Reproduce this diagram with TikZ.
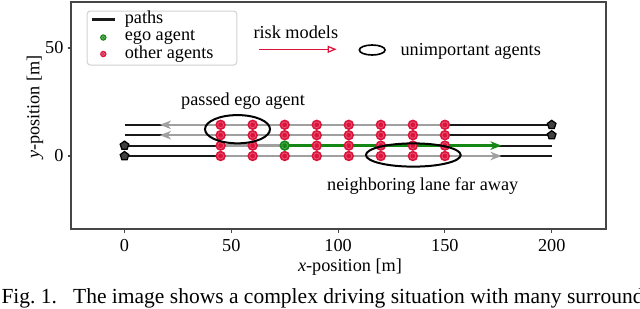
\documentclass[tikz,border=0pt]{standalone}
\usepackage{fontspec}
\setmainfont{Liberation Serif}
\usetikzlibrary{arrows.meta,shapes.geometric}
\definecolor{crim}{RGB}{220,20,60}
\definecolor{egogreen}{RGB}{20,135,20}
\definecolor{predgray}{RGB}{160,160,160}
\definecolor{framegray}{RGB}{70,70,70}
\tikzset{
 pathline/.style={line width=0.85pt, black!90},
 predline/.style={line width=0.9pt, predgray},
 egoline/.style={line width=0.9pt, egogreen},
 agentdot/.style={circle, fill=crim, inner sep=0pt, minimum size=4.2pt,
   path picture={\draw[white, opacity=0.28, line width=0.3pt] (path picture bounding box.center) circle (1.2pt);}},
 egodot/.style={circle, fill=egogreen, inner sep=0pt, minimum size=4.2pt,
   path picture={\draw[white, opacity=0.28, line width=0.3pt] (path picture bounding box.center) circle (1.2pt);}},
 legdot/.style={minimum size=2.6pt,
   path picture={\draw[white, opacity=0.35, line width=0.25pt] (path picture bounding box.center) circle (0.65pt);}},
 startmark/.style={regular polygon, regular polygon sides=5, draw=black, fill=black!75, line width=0.5pt, inner sep=0pt, minimum size=3.6pt},
 unimp/.style={ellipse, draw=black, line width=0.8pt, inner sep=0pt},
 lbl/.style={inner sep=0pt, anchor=base west},
 predtip/.style={-{Stealth[length=4.4pt, width=3.4pt, inset=1.3pt]}},
 axisline/.style={framegray, line width=0.45pt},
}
\begin{document}
\begin{tikzpicture}[x=0.4pt,y=-0.4pt,font=\fontsize{7.3}{8.5}\selectfont]
\useasboundingbox (0,0) rectangle (640,308);
\clip (0,0) rectangle (640,308);
\def\laneA{124.8}\def\laneB{135.2}\def\laneC{145.6}\def\laneD{156}
% frame
\draw[axisline] (71,2) rectangle (606,229);
% y ticks
\foreach \yv/\yl in {48/50, 156/0} {
  \draw[axisline] (67.5,\yv) -- (71,\yv);
  \node[anchor=east, inner sep=0pt] (yt\yl) at (64,\yv) {\yl};
}
\node[rotate=90, inner sep=0pt] (ylab) at (35,107) {\textit{y}-position [m]};
\node[inner sep=0pt] (xlab) at (350,267) {\textit{x}-position [m]};
\begin{scope}[shift={(124.5,0)}, xscale=2.136]
 \foreach \xv in {0,50,100,150,200} {
   \draw[axisline] (\xv,229) -- (\xv,232.5);
   \node[anchor=base, inner sep=0pt] (xt\xv) at (\xv,251) {\xv};
 }
 \foreach \ln/\ly in {1/\laneA,2/\laneB,3/\laneC,4/\laneD} {
   \coordinate (s\ln) at (0,\ly);
   \coordinate (e\ln) at (200,\ly);
   \foreach \xv in {45,60,...,150} {\coordinate (p\ln-\xv) at (\xv,\ly);}
 }
 \coordinate (t1) at (16.6,\laneA);
 \coordinate (t2) at (16.6,\laneB);
 \coordinate (t3) at (176.5,\laneC);
 \coordinate (t4) at (176.5,\laneD);
\end{scope}
% paths
\foreach \ln in {1,...,4} {\draw[pathline] (s\ln) -- (e\ln);}
% predicted motions
\draw[predline, predtip] (p1-150) -- (t1);
\draw[predline, predtip] (p2-150) -- (t2);
\draw[predline] (p3-45) -- (p3-75);
\draw[egoline, predtip] (p3-75) -- (t3);
\draw[predline, predtip] (p4-45) -- (t4);
% agents
\foreach \ln in {1,2,4} {
  \foreach \xv in {45,60,...,150} {\node[agentdot] (a\ln-\xv) at (p\ln-\xv) {};}
}
\foreach \xv in {45,60,90,105,120,135,150} {\node[agentdot] (a3-\xv) at (p3-\xv) {};}
\node[egodot] (ego) at (p3-75) {};
% start markers
\node[startmark] (m1) at (e1) {};
\node[startmark] (m2) at (e2) {};
\node[startmark] (m3) at (s3) {};
\node[startmark] (m4) at (s4) {};
% unimportant agent ellipses
\node[unimp, minimum width=26pt, minimum height=11.3pt] (passed) at (237.5,129.2) {};
\node[unimp, minimum width=37.9pt, minimum height=9.3pt] (farlane) at (413.3,155) {};
\node[lbl] (passedtxt) at (180.7,105) {passed ego agent};
\node[lbl] (fartxt) at (326.7,190) {neighboring lane far away};
% legend
\node[draw=black!18, fill=white, rounded corners=1.2pt, line width=0.4pt, minimum width=59.8pt, minimum height=21.6pt, inner sep=0pt] (legend) at (162,38) {};
\coordinate (lp0) at (91.7,19.5);
\coordinate (lp1) at (115,19.5);
\draw[pathline] (lp0) -- (lp1);
\node[lbl] (legpaths) at (124.3,23.5) {paths};
\node[egodot, legdot] (legego) at (103.3,37.5) {};
\node[lbl] (legegotxt) at (124.3,40.5) {ego agent};
\node[agentdot, legdot] (legother) at (103.3,54) {};
\node[lbl] (legothertxt) at (124.3,58) {other agents};
% risk models
\node[lbl] (risktxt) at (253,38.3) {risk models};
\coordinate (r0) at (259,49.3);
\coordinate (r1) at (336.7,49.3);
\draw[crim, line width=0.5pt, -{Triangle[open, length=3.6pt, width=2.8pt]}] (r0) -- (r1);
\node[unimp, minimum width=10.3pt, minimum height=4pt, line width=0.65pt] (legell) at (372.2,50) {};
\node[lbl] (unimptxt) at (400,55) {unimportant agents};
% caption
\node[lbl, font=\fontsize{8.6}{10}\selectfont] (cap) at (1,303.5) {Fig.~1.\hspace{0.75em}The image shows a complex driving situation with many surround};
\end{tikzpicture}
\end{document}
